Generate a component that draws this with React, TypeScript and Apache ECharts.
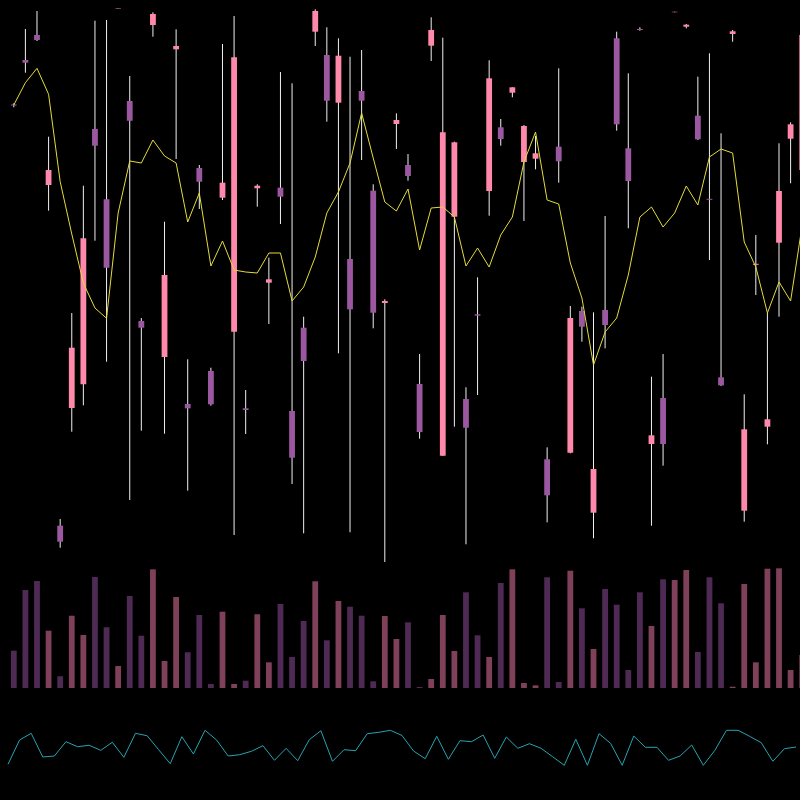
import React, { useEffect, useRef } from "react";
import * as echarts from "echarts";

// Candles (price index): open, close, low, high
const openVals = [495.5, 540, 565, 415, 74.3, 192, 215.7, 471, 400.7, 591, 499, 279, 575, 243, 550.7, 196, 432, 229, 402.3, 268.3, 191.7, 411.7, 317.3, 412.3, 189, 272.3, 568.3, 545, 497.3, 341, 509, 409.3, 297, 476, 435, 216, 554.3, 144.3, 383.3, 201, 285.7, 409, 472.7, 507.3, 438, 441.3, 140.7, 453.3, 147.3, 289, 87.3, 290, 561.7, 451.7, 571, 156, 202, 587.8, 573.3, 484.3, 401.2, 222.7, 566, 89.3, 335.2, 173.3, 357.3, 461.3, 430];
const closeVals = [494.5, 537.3, 560, 430, 58.3, 252.3, 361.7, 454.3, 332.3, 591.4, 479.3, 272.3, 586, 325, 554, 191.7, 418.3, 195.7, 417.3, 542.7, 190, 414.3, 320.7, 403.3, 142.3, 239, 589, 499.3, 544.3, 290.7, 499.3, 287.3, 299, 480, 424, 168, 570, 467.7, 457.7, 172.3, 284.3, 521.7, 461, 512.7, 474, 446.7, 104.7, 438.7, 282, 273.3, 131, 275, 475.7, 419, 570, 164.7, 156, 588.2, 575.3, 460.7, 400.2, 214.7, 568.7, 170.7, 336.2, 180.7, 409, 475.7, 565];
const lowVals = [492.7, 527.3, 559, 389.3, 52.3, 168.3, 194.7, 359.3, 238.3, 591, 100, 169.3, 563.3, 166.3, 441, 109.3, 391, 194.3, 400, 65, 166, 393.3, 276, 376, 116, 66.7, 554, 478.3, 246.7, 67.7, 440, 271.7, 38, 451, 419.3, 161.3, 539, 144, 173.3, 55.7, 205, 384.3, 454.3, 502.7, 379, 430.7, 77.7, 417.3, 146.7, 258.3, 61.7, 251.7, 469.3, 371.7, 569.3, 74.3, 134.3, 587.8, 571.7, 460, 340, 214, 558.3, 78.3, 305, 155.7, 283.3, 416.7, 417];
const highVals = [496.7, 571, 589, 463.3, 81, 287, 414.3, 579.3, 580, 591.4, 524, 282, 587.7, 378.3, 570.7, 240.7, 435, 232.3, 556, 584, 210, 415.7, 342.3, 528, 516.7, 283.3, 590.7, 572.7, 561.7, 543.3, 550, 415.7, 300.7, 486.7, 446, 246, 582.7, 562.3, 458.3, 212.7, 322.7, 539.7, 481, 512.7, 475, 464, 152.7, 531.7, 294, 293.3, 287.7, 384, 568.3, 526.7, 572.7, 223.3, 246, 588.2, 576, 523.3, 546.7, 466.7, 570, 205.7, 365, 287, 456.7, 477.7, 570];

// Moving average line
const maVals = [495, 517.3, 531.7, 505.7, 418.3, 366, 317, 292, 281.7, 387, 439, 437, 460, 444, 437, 378, 407, 334, 359, 330, 328, 327, 347, 347, 299, 313, 343, 387, 408, 437, 487, 442, 398, 389, 411, 350, 392, 393, 383, 334, 352, 333, 365, 383, 438, 468, 400, 396, 337, 302, 235, 268, 282, 325, 383, 393, 373, 387, 414, 395, 443, 451, 447, 358, 333, 287, 318, 299, 375];

// Volume
const volumeVals = [37.3, 98, 107, 57.3, 11.7, 72.3, 53, 111, 60.7, 22, 92, 52.3, 118.7, 27, 91, 35.7, 73, 4, 76.3, 4, 7.3, 73.7, 25.7, 84, 31, 67, 106.7, 47.7, 87, 81.3, 72.3, 6.7, 72, 49, 65.7, 1, 9, 73, 37, 95.7, 52.7, 31, 105, 118.7, 5, 2.7, 110.7, 6, 117.3, 79.7, 39, 99, 83.3, 18, 95.7, 62, 108.7, 108, 118, 36, 110.7, 84.7, 1.3, 104, 25.7, 119.3, 119.7, 18, 33];

// Oscillator line
const oscVals = [35.7, 60, 66.7, 43, 44, 58.3, 53.3, 54.7, 49.7, 57.7, 42.7, 66.7, 64.3, 50.3, 36.3, 63.3, 46, 69.7, 60, 44, 45.3, 48.7, 54.3, 39.7, 51.7, 39.3, 60.3, 69.3, 38.7, 50.3, 49.3, 66.3, 67.7, 69.7, 64.5, 49, 41.3, 63.7, 40.7, 59.3, 58.3, 65, 41.7, 63, 51.7, 56.3, 51.7, 43.3, 34.7, 60.7, 34.7, 66.3, 56.7, 34.7, 64, 52.7, 52.7, 39.7, 44, 55, 34.7, 49.7, 69.7, 69.7, 63.7, 57.3, 38.7, 51.3, 53];

const categories = openVals.map((_, i) => String(i + 1));

const UP = "#ff88ab";
const DOWN = "#9b58a0";
const UP_VOL = "#7f4059";
const DOWN_VOL = "#4e2a55";
const WICK = "#f0f0f0";

export default function App() {
  const ref = useRef<HTMLDivElement>(null);

  useEffect(() => {
    document.body.style.margin = "0";
    document.body.style.background = "#000";
    if (!ref.current) return;
    const chart = echarts.init(ref.current, null, { renderer: "svg" });
    const candleData = openVals.map((o, i) => [i, o, closeVals[i], lowVals[i], highVals[i]]);
    const isUp = (i: number) => closeVals[i] >= openVals[i];

    chart.setOption({
      animation: false,
      backgroundColor: "#000",
      grid: [
        { left: 8, right: 8, top: 0, height: 600 },
        { left: 8, right: 8, top: 560, height: 128 },
        { left: 8, right: 20, top: 700, height: 100 },
      ],
      xAxis: [
        { type: "category", data: categories, gridIndex: 0, boundaryGap: true, show: false },
        { type: "category", data: categories, gridIndex: 1, boundaryGap: true, show: false },
        { type: "category", data: categories, gridIndex: 2, boundaryGap: false, show: false },
      ],
      yAxis: [
        { type: "value", gridIndex: 0, min: 0, max: 600, show: false },
        { type: "value", gridIndex: 1, min: 0, max: 128, show: false },
        { type: "value", gridIndex: 2, min: 0, max: 100, show: false },
      ],
      series: [
        {
          type: "custom",
          name: "K",
          xAxisIndex: 0,
          yAxisIndex: 0,
          data: candleData,
          encode: { x: 0, y: [1, 2, 3, 4] },
          clip: true,
          renderItem: (params: any, api: any) => {
            const idx = api.value(0);
            const o = api.value(1);
            const c = api.value(2);
            const lo = api.value(3);
            const hi = api.value(4);
            const pO = api.coord([idx, o]);
            const pC = api.coord([idx, c]);
            const pL = api.coord([idx, lo]);
            const pH = api.coord([idx, hi]);
            const w = api.size([1, 0])[0] * 0.5;
            const top = Math.min(pO[1], pC[1]);
            const h = Math.max(0.4, Math.abs(pO[1] - pC[1]));
            const up = c >= o;
            return {
              type: "group",
              children: [
                {
                  type: "line",
                  shape: { x1: pL[0], y1: pL[1], x2: pH[0], y2: pH[1] },
                  style: { stroke: WICK, lineWidth: 1 },
                },
                {
                  type: "rect",
                  shape: { x: pO[0] - w / 2, y: top, width: w, height: h },
                  style: { fill: up ? UP : DOWN },
                },
              ],
            };
          },
          z: 3,
        },
        {
          type: "line",
          name: "MA",
          xAxisIndex: 0,
          yAxisIndex: 0,
          data: maVals,
          showSymbol: false,
          symbol: "none",
          lineStyle: { color: "#e3dc3c", width: 1 },
          z: 4,
        },
        {
          type: "bar",
          name: "Volume",
          xAxisIndex: 1,
          yAxisIndex: 1,
          data: volumeVals,
          barWidth: "50%",
          itemStyle: {
            color: (p: any) => (isUp(p.dataIndex) ? UP_VOL : DOWN_VOL),
          },
        },
        {
          type: "line",
          name: "Osc",
          xAxisIndex: 2,
          yAxisIndex: 2,
          data: oscVals,
          showSymbol: false,
          symbol: "none",
          lineStyle: { color: "#26a3b3", width: 1 },
        },
      ],
    });
    return () => chart.dispose();
  }, []);

  return (
    <div
      ref={ref}
      style={{ position: "fixed", left: 0, top: 0, width: 816, height: 800, background: "#000" }}
    />
  );
}
